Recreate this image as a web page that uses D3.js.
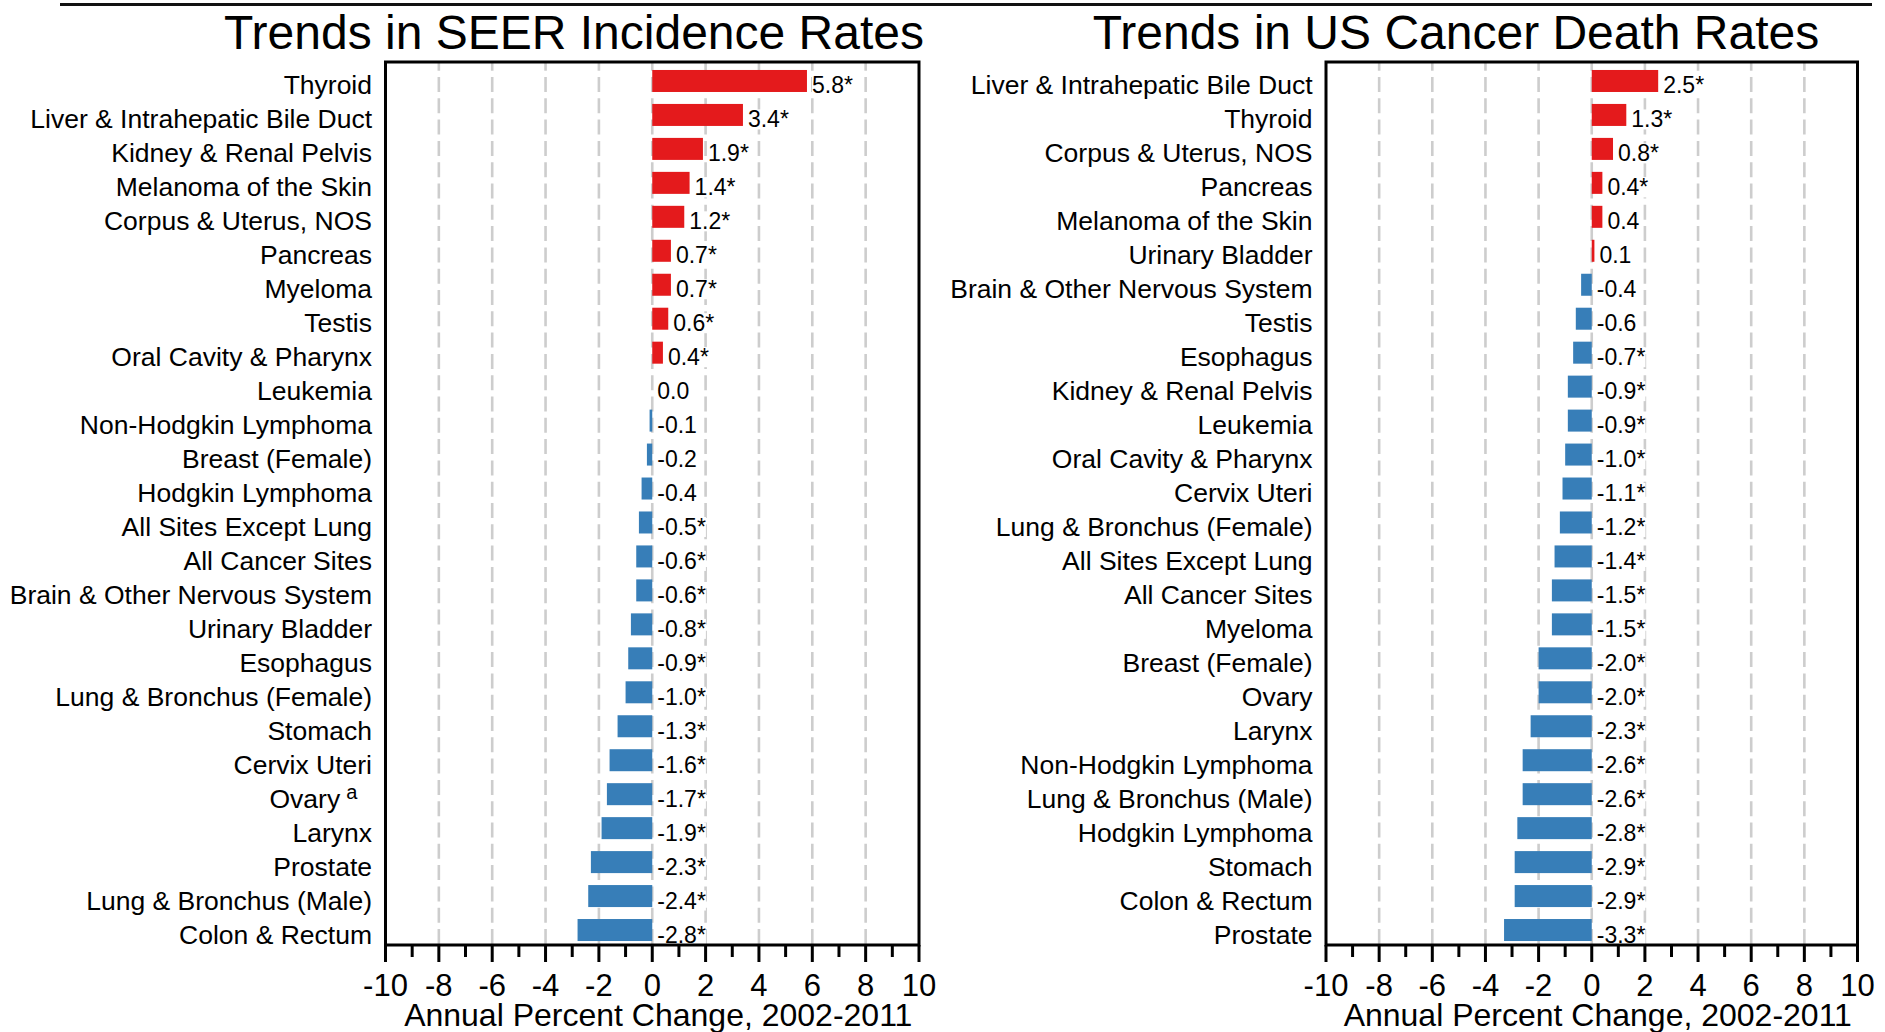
<!DOCTYPE html>
<html><head><meta charset="utf-8">
<script src="https://cdn.jsdelivr.net/npm/d3@7/dist/d3.min.js"></script>
<style>
body{margin:0;background:#fff}
svg{display:block}
text{font-family:"Liberation Sans",Arial,Helvetica,sans-serif;fill:#000}
</style>
</head><body>
<svg id="chart" width="1885" height="1032"></svg>
<script>
// ---------- data ----------
const incTitle = "Trends in SEER Incidence Rates";
const incCategories = ["Thyroid","Liver & Intrahepatic Bile Duct","Kidney & Renal Pelvis","Melanoma of the Skin","Corpus & Uterus, NOS","Pancreas","Myeloma","Testis","Oral Cavity & Pharynx","Leukemia","Non-Hodgkin Lymphoma","Breast (Female)","Hodgkin Lymphoma","All Sites Except Lung","All Cancer Sites","Brain & Other Nervous System","Urinary Bladder","Esophagus","Lung & Bronchus (Female)","Stomach","Cervix Uteri","Ovary","Larynx","Prostate","Lung & Bronchus (Male)","Colon & Rectum"];
const incValues = [5.8,3.4,1.9,1.4,1.2,0.7,0.7,0.6,0.4,0.0,-0.1,-0.2,-0.4,-0.5,-0.6,-0.6,-0.8,-0.9,-1.0,-1.3,-1.6,-1.7,-1.9,-2.3,-2.4,-2.8];
const incSig = [1,1,1,1,1,1,1,1,1,0,0,0,0,1,1,1,1,1,1,1,1,1,1,1,1,1];
const incFootnotes = ["","","","","","","","","","","","","","","","","","","","","","a","","","",""];

const deathTitle = "Trends in US Cancer Death Rates";
const deathCategories = ["Liver & Intrahepatic Bile Duct","Thyroid","Corpus & Uterus, NOS","Pancreas","Melanoma of the Skin","Urinary Bladder","Brain & Other Nervous System","Testis","Esophagus","Kidney & Renal Pelvis","Leukemia","Oral Cavity & Pharynx","Cervix Uteri","Lung & Bronchus (Female)","All Sites Except Lung","All Cancer Sites","Myeloma","Breast (Female)","Ovary","Larynx","Non-Hodgkin Lymphoma","Lung & Bronchus (Male)","Hodgkin Lymphoma","Stomach","Colon & Rectum","Prostate"];
const deathValues = [2.5,1.3,0.8,0.4,0.4,0.1,-0.4,-0.6,-0.7,-0.9,-0.9,-1.0,-1.1,-1.2,-1.4,-1.5,-1.5,-2.0,-2.0,-2.3,-2.6,-2.6,-2.8,-2.9,-2.9,-3.3];
const deathSig = [1,1,1,1,0,0,0,0,1,1,1,1,1,1,1,1,1,1,1,1,1,1,1,1,1,1];
const deathFootnotes = deathCategories.map(() => "");

const xDomain = [-10, 10];
const xTickLabels = [-10,-8,-6,-4,-2,0,2,4,6,8,10];
const xMinorTicks = d3.range(-10, 11, 1);
const gridValues = [-8,-6,-4,-2,0,2,4,6,8];
const axisTitle = "Annual Percent Change, 2002-2011";

// ---------- drawing ----------
const svg = d3.select("#chart");
const RED = "#e41a1c", BLUE = "#377eb8";

svg.append("line")
  .attr("x1", 60).attr("x2", 1872).attr("y1", 4.5).attr("y2", 4.5)
  .attr("stroke", "#111").attr("stroke-width", 3);

function panel(cfg) {
  const top = 62, bottom = 945;
  const x = d3.scaleLinear().domain(xDomain).range([cfg.x0, cfg.x1]);
  const y = d3.scalePoint().domain(cfg.categories).range([64, 947]).padding(0.5);
  const barH = 22;
  const g = svg.append("g");

  // title
  g.append("text").attr("x", cfg.titleX).attr("y", 49)
    .attr("text-anchor", "middle").style("font-size", "48px").text(cfg.title);

  // gridlines
  g.selectAll(".grid").data(gridValues).join("line")
    .attr("x1", d => x(d)).attr("x2", d => x(d))
    .attr("y1", top).attr("y2", bottom)
    .attr("stroke", "#cdcdcd").attr("stroke-width", 2.6)
    .attr("stroke-dasharray", "15,6.3").attr("stroke-dashoffset", 6.3);

  const rows = cfg.categories.map((c, i) => ({c, v: cfg.values[i], s: cfg.sig[i], f: cfg.foot[i]}));

  // bars
  g.selectAll(".bar").data(rows).join("rect")
    .attr("x", d => x(Math.min(0, d.v)))
    .attr("width", d => Math.abs(x(d.v) - x(0)))
    .attr("y", d => y(d.c) - barH / 2)
    .attr("height", barH)
    .attr("fill", d => d.v >= 0 ? RED : BLUE);

  // value labels with white backing
  const vl = g.selectAll(".val").data(rows).join("g");
  const vt = vl.append("text")
    .attr("x", d => x(Math.max(0, d.v)) + 5)
    .attr("y", d => y(d.c) + 12.5)
    .style("font-size", "23px")
    .text(d => d.v.toFixed(1) + (d.s ? "*" : ""));
  vt.each(function() {
    const b = this.getBBox();
    d3.select(this.parentNode).insert("rect", "text")
      .attr("x", b.x).attr("y", b.y + 3).attr("width", b.width).attr("height", b.height - 6)
      .attr("fill", "#fff");
  });

  // category labels
  const lab = g.selectAll(".cat").data(rows).join("text")
    .attr("x", cfg.x0 - 13.5)
    .attr("y", d => y(d.c) + 13.5)
    .attr("text-anchor", "end")
    .style("font-size", "26.5px");
  lab.each(function(d) {
    const t = d3.select(this);
    t.append("tspan").text(d.c);
    if (d.f) {
      t.append("tspan").attr("dx", 6).attr("dy", -9).style("font-size", "20px").text(d.f);
      t.append("tspan").attr("dy", 9).text("\u00a0\u00a0");
    }
  });

  // frame
  g.append("path")
    .attr("d", `M${cfg.x0},${bottom} V${top} H${cfg.x1} V${bottom} H${cfg.x0}`)
    .attr("fill", "none").attr("stroke", "#000").attr("stroke-width", 3)
    .attr("stroke-linejoin", "miter").attr("stroke-linecap", "square");

  // ticks
  g.selectAll(".tick").data(xMinorTicks).join("line")
    .attr("x1", d => x(d)).attr("x2", d => x(d))
    .attr("y1", bottom).attr("y2", d => d % 2 === 0 ? 962 : 957)
    .attr("stroke", "#000").attr("stroke-width", 3);

  g.selectAll(".tl").data(xTickLabels).join("text")
    .attr("x", d => x(d)).attr("y", 996)
    .attr("text-anchor", "middle").style("font-size", "31px")
    .text(d => String(d));

  g.append("text").attr("x", (cfg.x0 + cfg.x1) / 2 + 6).attr("y", 1026)
    .attr("text-anchor", "middle").style("font-size", "32px").text(axisTitle);
}

panel({x0: 385.5, x1: 919, titleX: 574, title: incTitle,
  categories: incCategories, values: incValues, sig: incSig, foot: incFootnotes});
panel({x0: 1326, x1: 1857.5, titleX: 1456, title: deathTitle,
  categories: deathCategories, values: deathValues, sig: deathSig, foot: deathFootnotes});
</script>
</body></html>
